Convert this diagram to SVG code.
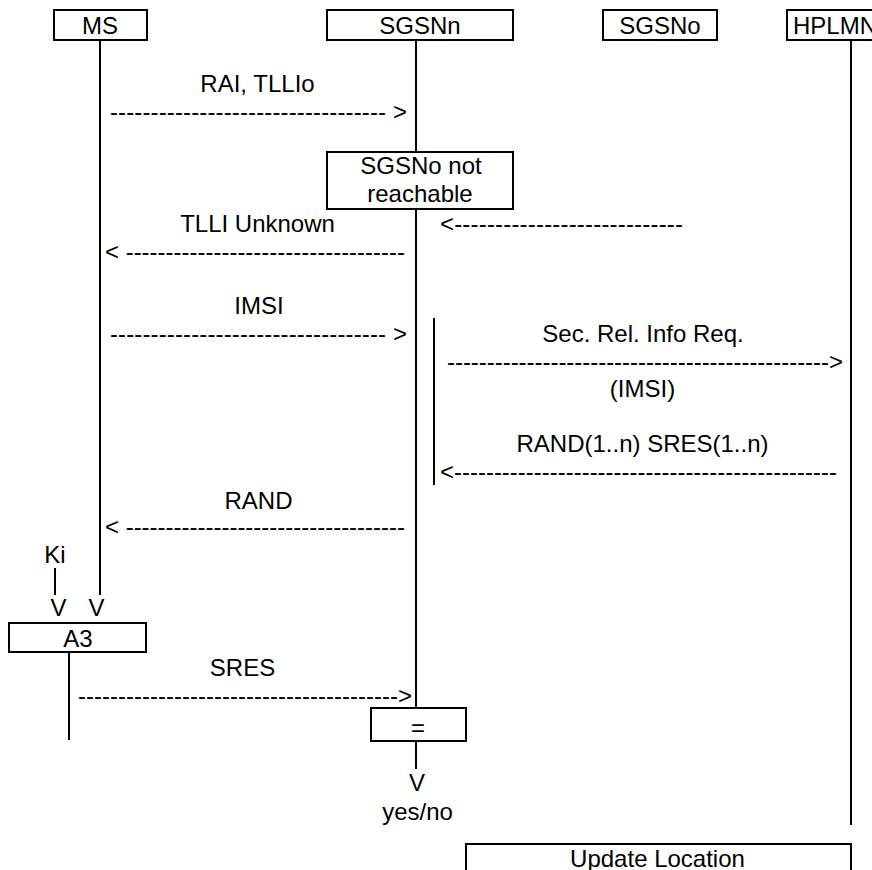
<svg xmlns="http://www.w3.org/2000/svg" width="872" height="870" viewBox="0 0 872 870">
<style>
  .box { fill: #fff; stroke: #000; stroke-width: 2; }
  .ln { stroke: #000; stroke-width: 2; fill: none; }
  text { font-family: "Liberation Sans", Arial, sans-serif; font-size: 24px; fill: #000; }
  .c { text-anchor: middle; }
</style>
<rect width="872" height="870" fill="#fff"/>
<g id="connectors">
  <line class="ln" x1="100" y1="40" x2="100" y2="595"/>
  <line class="ln" x1="416" y1="40" x2="416" y2="152"/>
  <line class="ln" x1="416" y1="209" x2="416" y2="708"/>
  <line class="ln" x1="416" y1="741" x2="416" y2="769"/>
  <line class="ln" x1="851" y1="40" x2="851" y2="825"/>
  <line class="ln" x1="434" y1="318" x2="434" y2="485"/>
  <line class="ln" x1="55" y1="568" x2="55" y2="595"/>
  <line class="ln" x1="69" y1="652" x2="69" y2="740"/>
  <text x="110" y="119.5" textLength="297" lengthAdjust="spacing">---------------------------------- &gt;</text>
  <text x="105" y="260" textLength="300" lengthAdjust="spacing">&lt; -----------------------------------</text>
  <text x="440" y="231.5" textLength="243" lengthAdjust="spacing">&lt;----------------------------</text>
  <text x="110" y="341.5" textLength="297" lengthAdjust="spacing">---------------------------------- &gt;</text>
  <text x="447" y="370" textLength="396" lengthAdjust="spacing">------------------------------------------------&gt;</text>
  <text x="440" y="480" textLength="397" lengthAdjust="spacing">&lt;------------------------------------------------</text>
  <text x="105" y="535" textLength="300" lengthAdjust="spacing">&lt; -----------------------------------</text>
  <text x="78" y="704" textLength="334" lengthAdjust="spacing">----------------------------------------&gt;</text>
</g>
<g id="MS"><rect class="box" x="54" y="10" width="93" height="30"/><text class="c" x="100" y="33.5">MS</text></g>
<g id="SGSNn"><rect class="box" x="327" y="10" width="186" height="30"/><text class="c" x="420" y="33.5">SGSNn</text></g>
<g id="SGSNo"><rect class="box" x="603" y="10" width="114" height="30"/><text class="c" x="660" y="33.5">SGSNo</text></g>
<g id="HPLMN"><rect class="box" x="787" y="10" width="120" height="30"/><text x="793" y="33.5">HPLMN</text></g>
<g id="notReachable"><rect class="box" x="327" y="152" width="186" height="57"/><text class="c" x="421" y="174">SGSNo not</text><text class="c" x="420" y="201.5">reachable</text></g>
<g id="A3"><rect class="box" x="9" y="623" width="137" height="29"/><text class="c" x="78" y="646.5">A3</text></g>
<g id="compare"><rect class="box" x="371" y="708" width="95" height="33"/><text class="c" x="418" y="736">=</text></g>
<g id="UpdateLocation"><rect class="box" x="466" y="844" width="385" height="40"/><text class="c" x="657.5" y="867">Update Location</text></g>
<g id="labels">
  <text class="c" x="257.5" y="92">RAI, TLLIo</text>
  <text class="c" x="257.5" y="232">TLLI Unknown</text>
  <text class="c" x="259" y="313.5">IMSI</text>
  <text class="c" x="643" y="342">Sec. Rel. Info Req.</text>
  <text class="c" x="642.5" y="397">(IMSI)</text>
  <text class="c" x="642.5" y="452">RAND(1..n) SRES(1..n)</text>
  <text class="c" x="258.5" y="508.5">RAND</text>
  <text class="c" x="55" y="562.5">Ki</text>
  <text class="c" x="58.5" y="616">V</text>
  <text class="c" x="96.5" y="616">V</text>
  <text class="c" x="242.5" y="676">SRES</text>
  <text class="c" x="417" y="791">V</text>
  <text class="c" x="417.5" y="820">yes/no</text>
</g>
</svg>
